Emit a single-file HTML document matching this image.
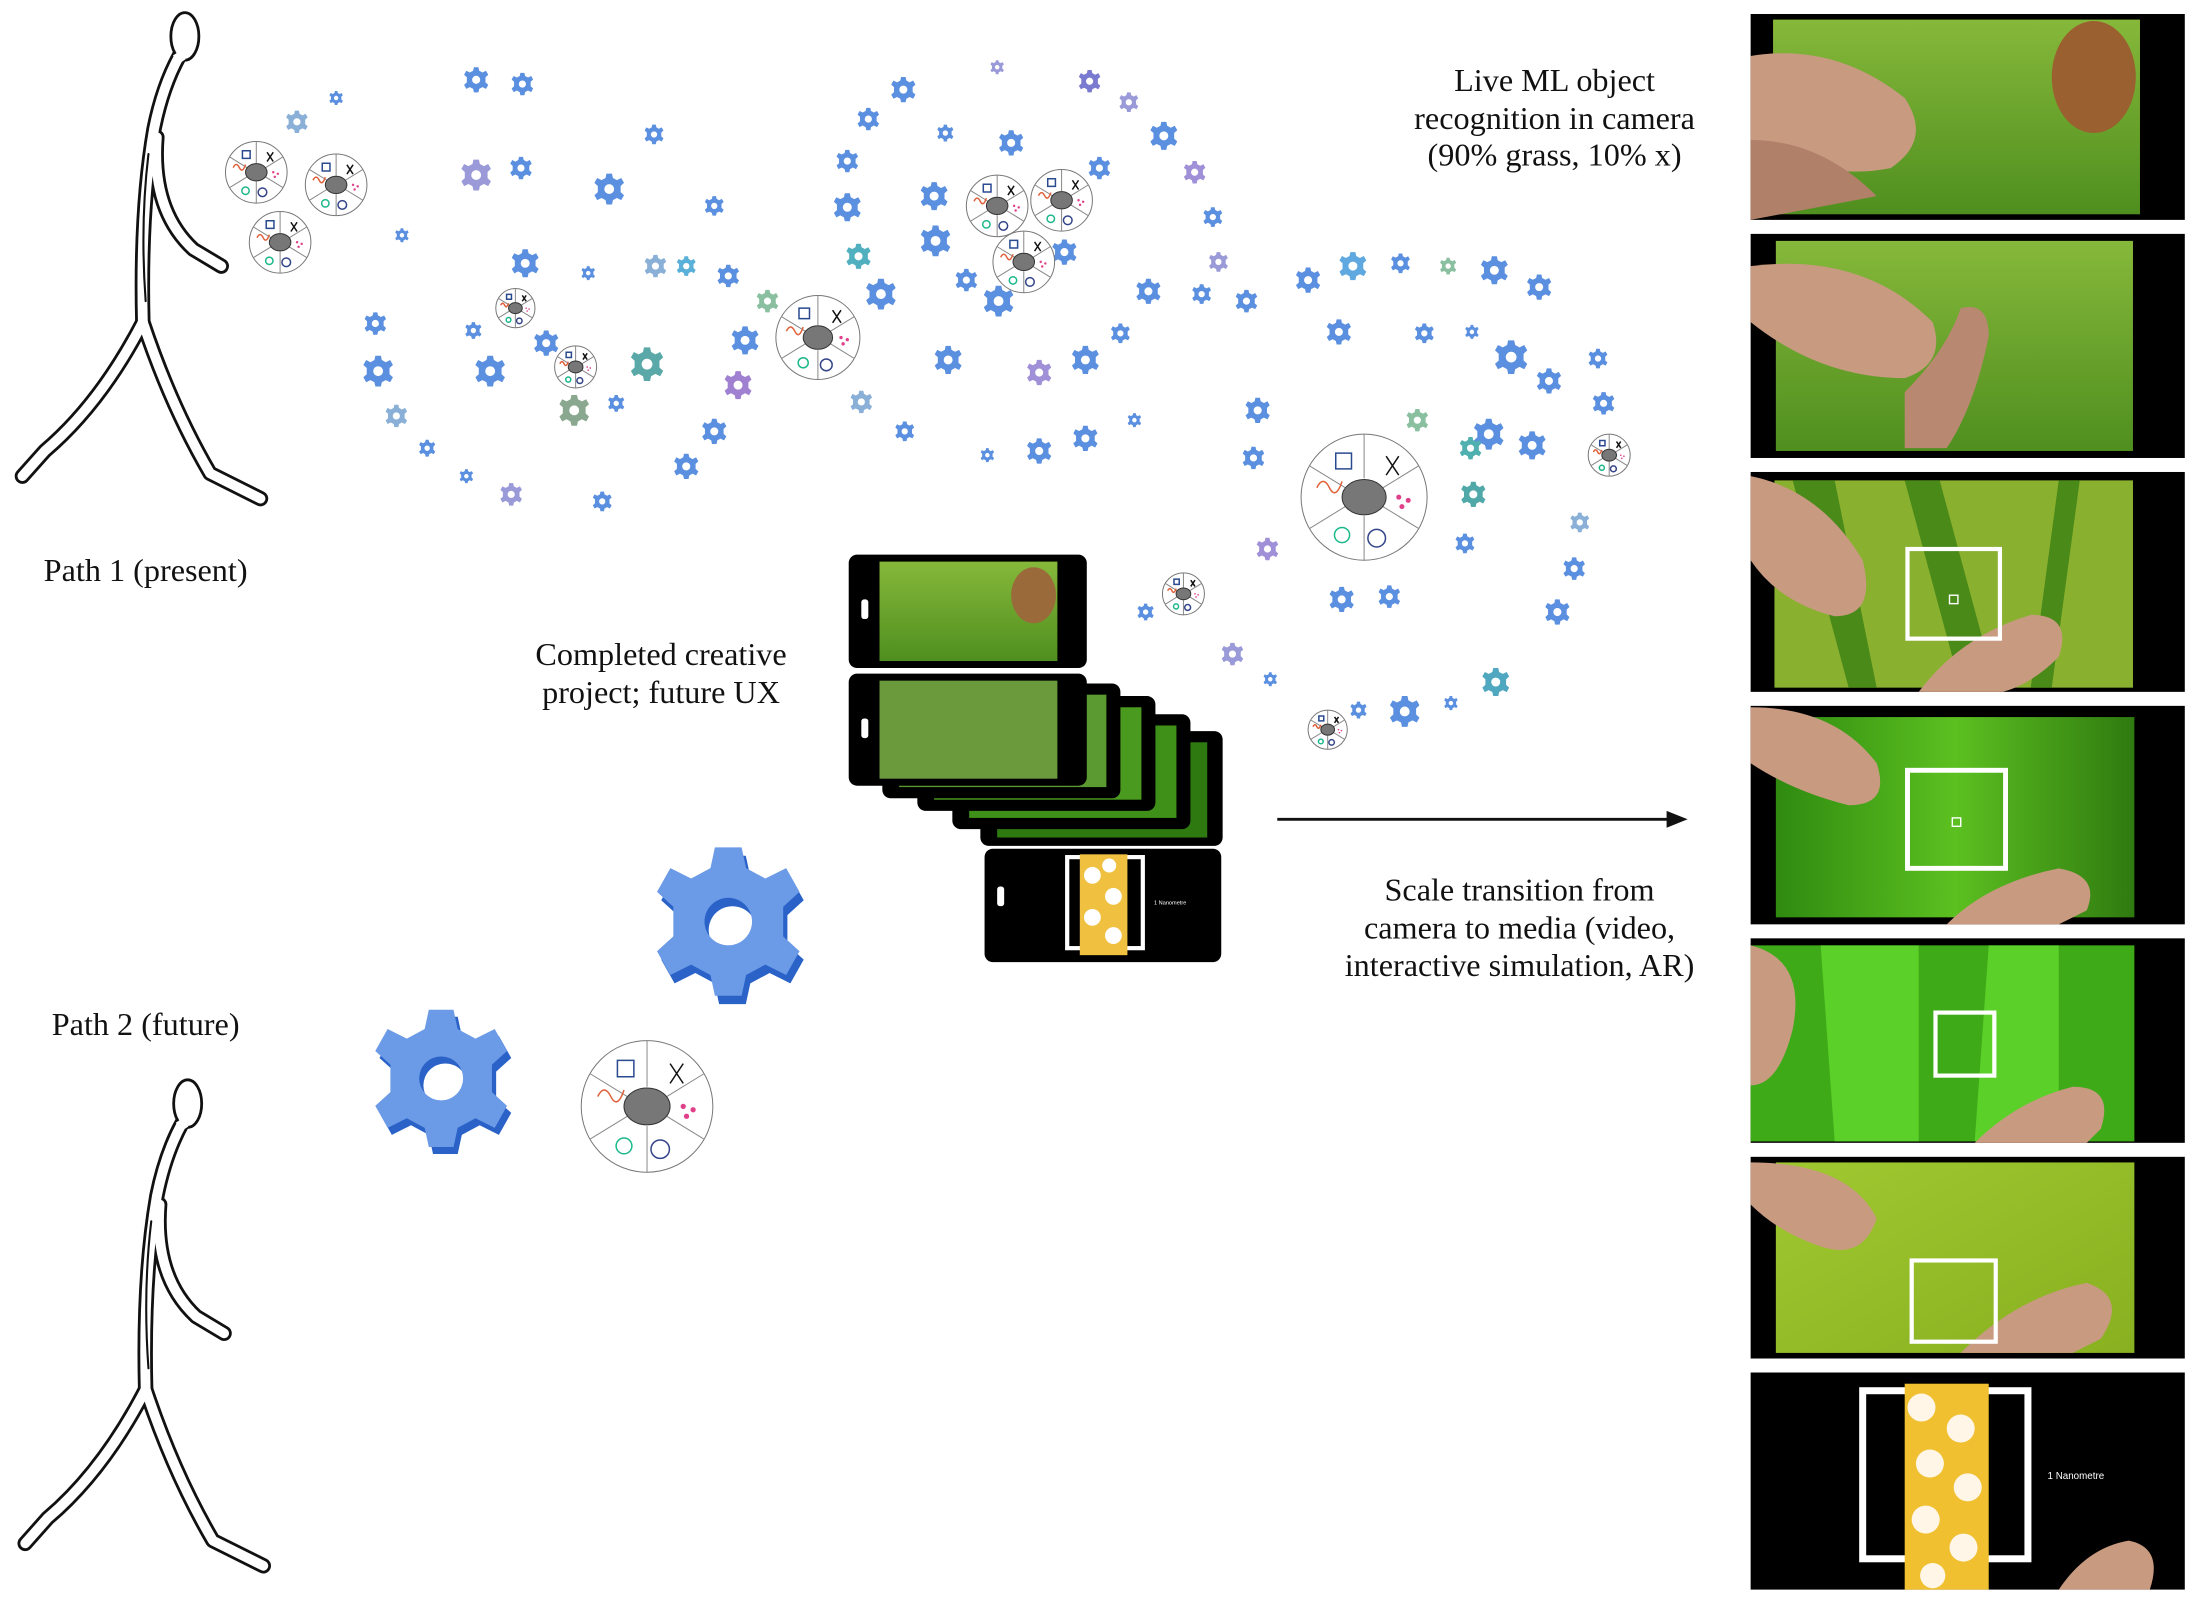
<!DOCTYPE html>
<html><head><meta charset="utf-8"><style>
html,body{margin:0;padding:0;background:#fff;}
svg{display:block;}
text{font-family:"Liberation Serif",serif;fill:#111;}
</style></head><body>
<svg width="2196" height="1598" viewBox="0 0 1568 1141" preserveAspectRatio="none" xmlns="http://www.w3.org/2000/svg">
<defs>
<g id="gear">
<path d="M-0.18,-1 L0.18,-1 L0.24,-0.72 L0.5,-0.58 L0.78,-0.72 L0.96,-0.4 L0.74,-0.2 L0.74,0.2 L0.96,0.4 L0.78,0.72 L0.5,0.58 L0.24,0.72 L0.18,1 L-0.18,1 L-0.24,0.72 L-0.5,0.58 L-0.78,0.72 L-0.96,0.4 L-0.74,0.2 L-0.74,-0.2 L-0.96,-0.4 L-0.78,-0.72 L-0.5,-0.58 L-0.24,-0.72 Z M0.32,0 A0.32,0.32 0 1 0 -0.32,0 A0.32,0.32 0 1 0 0.32,0 Z" fill-rule="evenodd"/>
</g>
<g id="wheel">
<circle r="1" fill="#fff" stroke="#777" stroke-width="1" vector-effect="non-scaling-stroke"/>
<g stroke="#888" stroke-width="1">
<line x1="0" y1="-0.3" x2="0" y2="-1" vector-effect="non-scaling-stroke"/>
<line x1="0.3" y1="0.15" x2="0.87" y2="0.5" vector-effect="non-scaling-stroke"/>
<line x1="-0.3" y1="0.15" x2="-0.87" y2="0.5" vector-effect="non-scaling-stroke"/>
<line x1="0.3" y1="-0.15" x2="0.87" y2="-0.5" vector-effect="non-scaling-stroke"/>
<line x1="-0.3" y1="-0.15" x2="-0.87" y2="-0.5" vector-effect="non-scaling-stroke"/>
<line x1="0" y1="0.3" x2="0" y2="1" vector-effect="non-scaling-stroke"/>
</g>
<ellipse cx="0" cy="0" rx="0.35" ry="0.28" fill="#777" stroke="#333" stroke-width="1" vector-effect="non-scaling-stroke"/>
<path d="M-0.75,-0.15 q0.1,-0.2 0.2,0 t0.2,-0.1" fill="none" stroke="#e0603a" stroke-width="1.5" vector-effect="non-scaling-stroke"/>
<circle cx="-0.35" cy="0.6" r="0.12" fill="none" stroke="#1bb88a" stroke-width="1.5" vector-effect="non-scaling-stroke"/>
<circle cx="0.2" cy="0.65" r="0.14" fill="none" stroke="#334488" stroke-width="1.5" vector-effect="non-scaling-stroke"/>
<rect x="-0.45" y="-0.7" width="0.25" height="0.25" fill="none" stroke="#2a4a90" stroke-width="1.5" vector-effect="non-scaling-stroke"/>
<path d="M0.35,-0.65 l0.2,0.3 M0.55,-0.65 l-0.2,0.3" stroke="#111" stroke-width="1.5" vector-effect="non-scaling-stroke"/>
<circle cx="0.6" cy="0.15" r="0.04" fill="#e0408a"/><circle cx="0.7" cy="0.05" r="0.04" fill="#e0408a"/><circle cx="0.55" cy="0.0" r="0.04" fill="#e0408a"/>
</g>
<g id="walker">
<g fill="none" stroke-linecap="round" stroke-linejoin="round">
<g stroke="#111" stroke-width="11">
<path d="M128,40 Q116,62 110,92 Q100,150 102,230"/>
<path d="M112,98 Q108,150 138,178 L158,190"/>
<path d="M102,230 Q122,290 150,338 L186,356"/>
<path d="M102,230 Q72,288 32,322 L16,340"/>
</g>
<g stroke="#fff" stroke-width="7">
<path d="M128,40 Q116,62 110,92 Q100,150 102,230"/>
<path d="M112,98 Q108,150 138,178 L158,190"/>
<path d="M102,230 Q122,290 150,338 L186,356"/>
<path d="M102,230 Q72,288 32,322 L16,340"/>
</g>
<path d="M106,110 Q100,160 104,215" stroke="#111" stroke-width="1.5"/>
</g>
<ellipse cx="132" cy="26" rx="10" ry="17" fill="#fff" stroke="#111" stroke-width="2"/>
<path d="M126,38 L130,44" stroke="#fff" stroke-width="6"/>
</g>
<linearGradient id="grass" x1="0" y1="0" x2="0" y2="1"><stop offset="0" stop-color="#86b83a"/><stop offset="1" stop-color="#4f8f1f"/></linearGradient>
<linearGradient id="micro" x1="0" y1="0" x2="1" y2="0"><stop offset="0" stop-color="#2f8a10"/><stop offset="0.5" stop-color="#5cc020"/><stop offset="1" stop-color="#2f7a10"/></linearGradient>
<linearGradient id="yel" x1="0" y1="0" x2="1" y2="1"><stop offset="0" stop-color="#a0c830"/><stop offset="1" stop-color="#88b020"/></linearGradient>
</defs>

<use href="#walker"/>
<use href="#walker" transform="translate(2,762)"/>

<!-- Labels -->
<g font-size="23">
<text x="104" y="415" text-anchor="middle">Path 1 (present)</text>
<text x="104" y="739" text-anchor="middle">Path 2 (future)</text>
<text x="1110" y="65" text-anchor="middle">Live ML object</text>
<text x="1110" y="92" text-anchor="middle">recognition in camera</text>
<text x="1110" y="118" text-anchor="middle">(90% grass, 10% x)</text>
<text x="472" y="475" text-anchor="middle">Completed creative</text>
<text x="472" y="502" text-anchor="middle">project; future UX</text>
<text x="1085" y="643" text-anchor="middle">Scale transition from</text>
<text x="1085" y="670" text-anchor="middle">camera to media (video,</text>
<text x="1085" y="697" text-anchor="middle">interactive simulation, AR)</text>
</g>

<line x1="912" y1="585" x2="1192" y2="585" stroke="#111" stroke-width="2"/>
<path d="M1205,585 L1190,579 L1190,591 Z" fill="#111"/>

<g fill="#5b8fe0">
<use href="#gear" transform="translate(340,57) scale(9)"/><use href="#gear" transform="translate(373,60) scale(8)"/><use href="#gear" transform="translate(240,70) scale(5)"/><use href="#gear" transform="translate(212,87) scale(8)" fill="#8ab0d8"/><use href="#gear" transform="translate(467,96) scale(7)"/><use href="#gear" transform="translate(340,125) scale(11)" fill="#9a9ad8"/><use href="#gear" transform="translate(372,120) scale(8)"/><use href="#gear" transform="translate(435,135) scale(11)"/><use href="#gear" transform="translate(510,147) scale(7)"/><use href="#gear" transform="translate(287,168) scale(5)"/><use href="#gear" transform="translate(375,188) scale(10)"/><use href="#gear" transform="translate(420,195) scale(5)"/><use href="#gear" transform="translate(468,190) scale(8)" fill="#8ab0d8"/><use href="#gear" transform="translate(490,190) scale(7)" fill="#5ab0d8"/><use href="#gear" transform="translate(520,197) scale(8)"/><use href="#gear" transform="translate(268,231) scale(8)"/><use href="#gear" transform="translate(338,236) scale(6)"/><use href="#gear" transform="translate(390,245) scale(9)"/><use href="#gear" transform="translate(350,265) scale(11)"/><use href="#gear" transform="translate(462,260) scale(12)" fill="#5aa8a8"/><use href="#gear" transform="translate(270,265) scale(11)"/><use href="#gear" transform="translate(410,293) scale(11)" fill="#8aa890"/><use href="#gear" transform="translate(283,297) scale(8)" fill="#8ab0d8"/><use href="#gear" transform="translate(305,320) scale(6)"/><use href="#gear" transform="translate(510,308) scale(9)"/><use href="#gear" transform="translate(365,353) scale(8)" fill="#9a9ad8"/><use href="#gear" transform="translate(430,358) scale(7)"/><use href="#gear" transform="translate(333,340) scale(5)"/><use href="#gear" transform="translate(490,333) scale(9)"/><use href="#gear" transform="translate(548,215) scale(8)" fill="#8ac0a0"/><use href="#gear" transform="translate(527,275) scale(10)" fill="#a080d0"/><use href="#gear" transform="translate(532,243) scale(10)"/><use href="#gear" transform="translate(440,288) scale(6)"/>
<use href="#gear" transform="translate(645,64) scale(9)"/><use href="#gear" transform="translate(712,48) scale(5)" fill="#9a9ad8"/><use href="#gear" transform="translate(778,58) scale(8)" fill="#7a7ad0"/><use href="#gear" transform="translate(620,85) scale(8)"/><use href="#gear" transform="translate(675,95) scale(6)"/><use href="#gear" transform="translate(722,102) scale(9)"/><use href="#gear" transform="translate(806,73) scale(7)" fill="#9a9ad8"/><use href="#gear" transform="translate(831,97) scale(10)"/><use href="#gear" transform="translate(785,120) scale(8)"/><use href="#gear" transform="translate(853,123) scale(8)" fill="#a090d8"/><use href="#gear" transform="translate(605,115) scale(8)"/><use href="#gear" transform="translate(605,148) scale(10)"/><use href="#gear" transform="translate(667,140) scale(10)"/><use href="#gear" transform="translate(866,155) scale(7)"/><use href="#gear" transform="translate(668,172) scale(11)"/><use href="#gear" transform="translate(613,183) scale(9)" fill="#50b0c0"/><use href="#gear" transform="translate(629,210) scale(11)"/><use href="#gear" transform="translate(690,200) scale(8)"/><use href="#gear" transform="translate(713,215) scale(11)"/><use href="#gear" transform="translate(760,180) scale(9)"/><use href="#gear" transform="translate(820,208) scale(9)"/><use href="#gear" transform="translate(870,187) scale(7)" fill="#9a9ad8"/><use href="#gear" transform="translate(858,210) scale(7)"/><use href="#gear" transform="translate(800,238) scale(7)"/><use href="#gear" transform="translate(677,257) scale(10)"/><use href="#gear" transform="translate(742,266) scale(9)" fill="#a090d8"/><use href="#gear" transform="translate(775,257) scale(10)"/><use href="#gear" transform="translate(615,287) scale(8)" fill="#8ab0d8"/><use href="#gear" transform="translate(646,308) scale(7)"/><use href="#gear" transform="translate(742,322) scale(9)"/><use href="#gear" transform="translate(775,313) scale(9)"/><use href="#gear" transform="translate(705,325) scale(5)"/><use href="#gear" transform="translate(810,300) scale(5)"/>
<use href="#gear" transform="translate(890,215) scale(8)"/><use href="#gear" transform="translate(934,200) scale(9)"/><use href="#gear" transform="translate(966,190) scale(10)" fill="#60a8e0"/><use href="#gear" transform="translate(1000,188) scale(7)"/><use href="#gear" transform="translate(1034,190) scale(6)" fill="#8ac0a0"/><use href="#gear" transform="translate(1067,193) scale(10)"/><use href="#gear" transform="translate(1099,205) scale(9)"/><use href="#gear" transform="translate(956,237) scale(9)"/><use href="#gear" transform="translate(1017,238) scale(7)"/><use href="#gear" transform="translate(1051,237) scale(5)"/><use href="#gear" transform="translate(1079,255) scale(12)"/><use href="#gear" transform="translate(1106,272) scale(9)"/><use href="#gear" transform="translate(1141,256) scale(7)"/><use href="#gear" transform="translate(1145,288) scale(8)"/><use href="#gear" transform="translate(898,293) scale(9)"/><use href="#gear" transform="translate(895,327) scale(8)"/><use href="#gear" transform="translate(1063,310) scale(11)"/><use href="#gear" transform="translate(1094,318) scale(10)"/><use href="#gear" transform="translate(1052,353) scale(9)" fill="#50a8a8"/><use href="#gear" transform="translate(1046,388) scale(7)"/><use href="#gear" transform="translate(905,392) scale(8)" fill="#a090d8"/><use href="#gear" transform="translate(1128,373) scale(7)" fill="#8ab0d8"/><use href="#gear" transform="translate(1124,406) scale(8)"/><use href="#gear" transform="translate(1112,437) scale(9)"/><use href="#gear" transform="translate(958,428) scale(9)"/><use href="#gear" transform="translate(992,426) scale(8)"/><use href="#gear" transform="translate(1068,487) scale(10)" fill="#50a8c0"/><use href="#gear" transform="translate(1003,508) scale(11)"/><use href="#gear" transform="translate(970,507) scale(6)"/><use href="#gear" transform="translate(1036,502) scale(5)"/><use href="#gear" transform="translate(880,467) scale(8)" fill="#9a9ad8"/><use href="#gear" transform="translate(818,437) scale(6)"/><use href="#gear" transform="translate(907,485) scale(5)"/><use href="#gear" transform="translate(1012,300) scale(8)" fill="#8ac0a0"/><use href="#gear" transform="translate(1050,320) scale(8)" fill="#50b0b0"/>
</g>

<g transform="translate(523,664) scale(53)" fill="#2a62c8"><use href="#gear"/></g>
<g transform="translate(520,658) scale(53)" fill="#6b9ae6"><use href="#gear"/></g>
<g transform="translate(318,775) scale(49)" fill="#2a62c8"><use href="#gear"/></g>
<g transform="translate(315,770) scale(49)" fill="#6b9ae6"><use href="#gear"/></g>

<use href="#wheel" transform="translate(183,123) scale(22)"/><use href="#wheel" transform="translate(240,132) scale(22)"/><use href="#wheel" transform="translate(200,173) scale(22)"/><use href="#wheel" transform="translate(368,220) scale(14)"/><use href="#wheel" transform="translate(411,262) scale(15)"/><use href="#wheel" transform="translate(584,241) scale(30)"/><use href="#wheel" transform="translate(712,147) scale(22)"/><use href="#wheel" transform="translate(758,143) scale(22)"/><use href="#wheel" transform="translate(731,187) scale(22)"/><use href="#wheel" transform="translate(974,355) scale(45)"/><use href="#wheel" transform="translate(845,424) scale(15)"/><use href="#wheel" transform="translate(948,521) scale(14)"/><use href="#wheel" transform="translate(1149,325) scale(15)"/><use href="#wheel" transform="translate(462,790) scale(47)"/>

<g>
<rect x="700" y="522" width="173" height="82" rx="6" fill="#000"/>
<rect x="712" y="530" width="150" height="68" fill="#2e7a10"/>
<rect x="680" y="510" width="170" height="82" rx="6" fill="#000"/>
<rect x="692" y="518" width="148" height="66" fill="#3e9018"/>
<rect x="655" y="497" width="170" height="82" rx="6" fill="#000"/>
<rect x="667" y="505" width="148" height="66" fill="#4a9a20"/>
<rect x="630" y="488" width="170" height="82" rx="6" fill="#000"/>
<rect x="642" y="496" width="148" height="66" fill="#5a9a30"/>
<rect x="606" y="481" width="170" height="80" rx="6" fill="#000"/>
<rect x="628" y="486" width="127" height="70" fill="#6a9a3c"/>
<rect x="615" y="513" width="5" height="14" rx="2" fill="#fff"/>
<rect x="606" y="396" width="170" height="81" rx="6" fill="#000"/>
<rect x="628" y="401" width="127" height="71" fill="url(#grass)"/>
<ellipse cx="738" cy="425" rx="16" ry="20" fill="#9a6a3a"/>
<rect x="615" y="428" width="5" height="14" rx="2" fill="#fff"/>
<rect x="703" y="606" width="169" height="81" rx="6" fill="#000"/>
<rect x="712" y="633" width="5" height="14" rx="2" fill="#fff"/>
<rect x="762" y="612" width="54" height="65" fill="none" stroke="#fff" stroke-width="3"/>
<rect x="771" y="610" width="34" height="72" fill="#f0c040"/>
<g fill="#fff"><circle cx="780" cy="625" r="6"/><circle cx="795" cy="640" r="6"/><circle cx="780" cy="655" r="6"/><circle cx="795" cy="668" r="6"/><circle cx="792" cy="618" r="5"/></g>
<text x="824" y="646" font-size="4" style="fill:#fff;font-family:'Liberation Sans',sans-serif">1 Nanometre</text>
</g>

<g>
<rect x="1250" y="10" width="310" height="147" fill="#000"/>
<rect x="1266" y="14" width="262" height="139" fill="url(#grass)"/>
<ellipse cx="1495" cy="55" rx="30" ry="40" fill="#9a6030"/>
<path d="M1250,40 q60,-10 110,30 q20,30 -10,50 q-50,10 -100,-20 z" fill="#c89a80"/>
<path d="M1250,100 q50,0 90,40 l-90,17 z" fill="#b08068"/>

<rect x="1250" y="167" width="310" height="160" fill="#000"/>
<rect x="1268" y="172" width="255" height="150" fill="url(#grass)"/>
<path d="M1250,190 q80,-10 130,40 q10,30 -20,40 q-60,0 -110,-40 z" fill="#c89a80"/>
<path d="M1360,280 q30,-30 40,-60 q20,-5 20,20 q-10,50 -30,80 l-30,0 z" fill="#b88870"/>

<rect x="1250" y="337" width="310" height="157" fill="#000"/>
<rect x="1267" y="343" width="256" height="148" fill="#8ab030"/>
<path d="M1280,343 l40,148 h20 l-30,-148 z M1360,343 l40,148 h25 l-40,-148 z M1470,343 l-20,148 h15 l20,-148z" fill="#4a8a18"/>
<path d="M1250,340 q50,10 80,60 q10,40 -20,40 q-40,-10 -60,-40 z" fill="#c89a80"/>
<path d="M1370,494 q30,-40 80,-55 q30,0 20,30 q-20,20 -40,25 z" fill="#c89a80"/>
<rect x="1362" y="392" width="66" height="64" fill="none" stroke="#fff" stroke-width="3"/>
<rect x="1392" y="425" width="6" height="6" fill="none" stroke="#fff" stroke-width="1"/>

<rect x="1250" y="504" width="310" height="156" fill="#000"/>
<rect x="1268" y="512" width="256" height="143" fill="url(#micro)"/>
<path d="M1250,505 q60,0 90,40 q10,30 -20,30 q-40,-10 -70,-30 z" fill="#c89a80"/>
<path d="M1390,660 q30,-30 80,-40 q30,5 20,30 l-20,10 z" fill="#c89a80"/>
<rect x="1362" y="550" width="70" height="70" fill="none" stroke="#fff" stroke-width="3.5"/>
<rect x="1394" y="584" width="6" height="6" fill="none" stroke="#fff" stroke-width="1"/>

<rect x="1250" y="670" width="310" height="146" fill="#000"/>
<rect x="1250" y="675" width="274" height="140" fill="#3eaa18"/>
<path d="M1300,675 h70 v140 h-60 z M1420,675 h50 v140 h-60 z" fill="#5ad028"/>
<path d="M1250,675 q40,10 30,60 q-10,40 -30,40 z" fill="#c89a80"/>
<path d="M1410,816 q30,-30 70,-40 q30,0 20,30 l-10,10 z" fill="#c89a80"/>
<rect x="1382" y="723" width="42" height="45" fill="none" stroke="#fff" stroke-width="3"/>

<rect x="1250" y="826" width="310" height="144" fill="#000"/>
<rect x="1268" y="830" width="256" height="136" fill="url(#yel)"/>
<path d="M1250,830 q70,0 90,40 q-10,30 -40,20 q-30,-10 -50,-30 z" fill="#c89a80"/>
<path d="M1400,966 q40,-40 90,-50 q30,10 10,40 l-20,10 z" fill="#c89a80"/>
<rect x="1365" y="900" width="60" height="58" fill="none" stroke="#fff" stroke-width="3"/>

<rect x="1250" y="980" width="310" height="155" fill="#000"/>
<rect x="1330" y="993" width="118" height="120" fill="none" stroke="#fff" stroke-width="5"/>
<rect x="1360" y="988" width="60" height="147" fill="#f0c030"/>
<g fill="#fff6e8"><circle cx="1372" cy="1005" r="10"/><circle cx="1400" cy="1020" r="10"/><circle cx="1378" cy="1045" r="10"/><circle cx="1405" cy="1062" r="10"/><circle cx="1375" cy="1085" r="10"/><circle cx="1402" cy="1105" r="10"/><circle cx="1380" cy="1125" r="9"/></g>
<path d="M1470,1135 q20,-30 50,-35 q25,5 15,35 z" fill="#c89a80"/>
<text x="1462" y="1056" font-size="7" style="fill:#fff;font-family:'Liberation Sans',sans-serif">1 Nanometre</text>
</g>
</svg>
</body></html>
